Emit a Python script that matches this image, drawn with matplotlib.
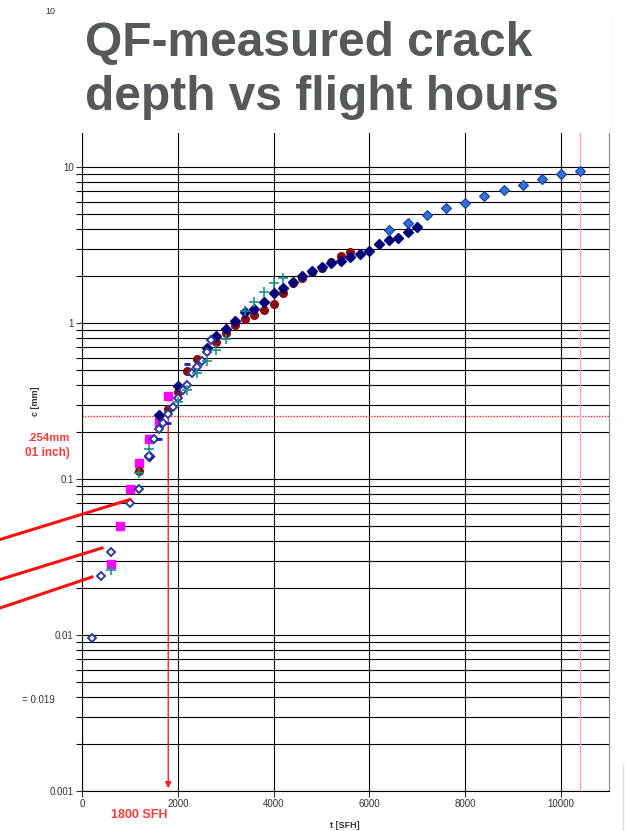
import numpy as np
import matplotlib
matplotlib.use('Agg')
import matplotlib.pyplot as plt
from matplotlib.lines import Line2D
from matplotlib.patches import Rectangle
from matplotlib.ticker import FixedLocator, LogLocator, NullFormatter

plt.rcParams['font.family'] = ['Liberation Sans', 'DejaVu Sans']

# Crack depth c [mm] against flight hours t [SFH].
open_t = [200, 400, 600, 1000, 1200, 1400, 1500, 1600, 1700, 1800, 1900,
          2000, 2100, 2200, 2300, 2400, 2500, 2600, 2700]
open_c = [0.0096, 0.024, 0.034, 0.07, 0.086, 0.14, 0.18, 0.21, 0.23, 0.26,
          0.29, 0.33, 0.37, 0.40, 0.48, 0.52, 0.57, 0.65, 0.78]

magenta_t = [600, 800, 1000, 1200, 1400, 1600, 1800]
magenta_c = [0.0285, 0.05, 0.086, 0.126, 0.18, 0.233, 0.34]

maroon_t = [1200, 1800, 2000, 2200, 2400, 2800, 3000, 3200, 3400, 3600,
            3800, 4000, 4200, 4400, 4600, 4800, 5000, 5200, 5400, 5600]
maroon_c = [0.113, 0.28, 0.36, 0.49, 0.585, 0.75, 0.86, 0.97, 1.06, 1.125,
            1.21, 1.33, 1.55, 1.81, 1.95, 2.13, 2.26, 2.46, 2.69, 2.84]

navy_t = [1400, 1600, 2000, 2600, 2800, 3000, 3200, 3400, 3600, 3800, 4000,
          4200, 4400, 4600, 4800, 5000, 5200, 5400, 5600, 5800, 6000, 6200,
          6400, 6600, 6800, 7000]
navy_c = [0.14, 0.257, 0.395, 0.69, 0.82, 0.915, 1.03, 1.18, 1.23, 1.37,
          1.55, 1.68, 1.84, 2.0, 2.15, 2.27, 2.41, 2.51, 2.64, 2.77, 2.91,
          3.19, 3.4, 3.52, 3.81, 4.1]

blue_t = [6400, 6800, 7200, 7600, 8000, 8400, 8800, 9200, 9600, 10000, 10400]
blue_c = [3.92, 4.36, 4.9, 5.42, 5.92, 6.52, 7.15, 7.7, 8.35, 9.0, 9.45]

teal_t = [600, 1200, 1400, 2000, 2200, 2400, 2600, 2800, 3000, 3400, 3600,
          3800, 4000, 4200]
teal_c = [0.026, 0.11, 0.155, 0.313, 0.37, 0.48, 0.57, 0.67, 0.785, 1.2,
          1.37, 1.57, 1.8, 1.93]

dash_t = [1600, 1800, 2200]
dash_c = [0.18, 0.23, 0.55]

limit_c = 0.254      # 0.01 inch
limit_t = 1800
end_t = 10400

x_ticks = [0, 2000, 4000, 6000, 8000, 10000]
y_ticks = [0.001, 0.01, 0.1, 1, 10, 100]
y_labels = ['0.001', '0.01', '0.1', '1', '10', '100']

W, H = 625, 831
fig = plt.figure(figsize=(W / 100, H / 100), dpi=100)


def fx(px):
    return px / W


def fy(py):
    return 1 - py / H


ax = fig.add_axes([fx(82), fy(791), fx(609) - fx(82), fy(11) - fy(791)])
ax.set_yscale('log')
ax.set_xlim(0, 11000)
ax.set_ylim(0.001, 100)

ax.xaxis.set_major_locator(FixedLocator(x_ticks))
ax.yaxis.set_major_locator(FixedLocator(y_ticks))
ax.set_yticklabels(y_labels)
ax.yaxis.set_minor_locator(LogLocator(base=10, subs=np.arange(2, 10)))
ax.yaxis.set_minor_formatter(NullFormatter())
ax.grid(True, which='both', axis='y', color='black', lw=0.8)
ax.grid(True, which='major', axis='x', color='black', lw=0.8)
ax.set_axisbelow(True)
ax.tick_params(axis='both', which='major', direction='out', length=4,
               width=0.8, labelsize=7, colors='#333333', pad=2)
ax.tick_params(axis='y', which='minor', direction='out', length=4, width=0.8)
for side in ['left', 'bottom']:
    ax.spines[side].set_color('black')
ax.spines['top'].set_visible(False)
ax.spines['right'].set_color('#888888')

# limit line, arrow at 1800 SFH, and end-of-test line
ax.axhline(limit_c, color='#ff2020', lw=1, ls=(0, (1, 1)), zorder=1)
ax.axvline(end_t, color='#f7a3c9', lw=1, zorder=1)
ax.annotate('', xy=(limit_t, 0.001), xytext=(limit_t, limit_c),
            arrowprops=dict(arrowstyle='-|>', color='#ff2020', lw=1,
                            mutation_scale=9), zorder=2)

ax.plot(magenta_t, magenta_c, 's', color='#ff00ff', ms=5.5, mec='#ff00ff', zorder=3)
ax.plot(maroon_t, maroon_c, 'o', color='#8b0a0a', ms=5.5, zorder=3)
ax.plot(navy_t, navy_c, 'D', color='#00007a', ms=4.8, zorder=4)
ax.plot(blue_t, blue_c, 'D', mfc='#2f6fe0', mec='#1b3c8f', ms=5, mew=0.8, zorder=4)
ax.plot(open_t, open_c, 'D', mfc='white', mec='#2a3aa0', ms=4.5, mew=1.4, zorder=5)
ax.plot(teal_t, teal_c, '+', color='#1f9090', ms=7, mew=1.2, zorder=6)
ax.plot(dash_t, dash_c, '_', color='#1020c0', ms=5, mew=2, zorder=6)

# red pointer lines coming in from the cropped left side
for (x0, y0, x1, y1) in [(0, 539.5, 130, 499.5), (0, 579.5, 102, 548),
                         (0, 608, 92, 577)]:
    fig.add_artist(Line2D([fx(x0), fx(x1)], [fy(y0), fy(y1)], color='#ff1010',
                          lw=2.2, transform=fig.transFigure))

# thin slide edge at bottom right
fig.add_artist(Line2D([fx(623), fx(623)], [fy(765), fy(831)], color='#dddddd',
                      lw=1, transform=fig.transFigure))

fig.text(fx(36), fy(401), 'c [mm]', rotation=90, ha='center', va='center',
         fontsize=6.5, fontweight='bold', color='#333333')
fig.text(fx(345), fy(826), 't [SFH]', ha='center', va='center',
         fontsize=6.5, fontweight='bold', color='#333333')
fig.text(fx(70), fy(438), '.254mm', ha='right', va='center', fontsize=8.2,
         fontweight='bold', color='#ff3b3b')
fig.text(fx(70), fy(453), '01 inch)', ha='right', va='center', fontsize=8.5,
         fontweight='bold', color='#ff3b3b')
fig.text(fx(22), fy(700), '= 0.019', ha='left', va='center', fontsize=7,
         color='#333333')
fig.text(fx(139), fy(815), '1800 SFH', ha='center', va='center', fontsize=9,
         fontweight='bold', color='#ff3b3b')

# slide title box sitting over the top of the chart
fig.add_artist(Rectangle((fx(56), fy(133)), fx(610) - fx(56), 133 / H,
                         facecolor='white', edgecolor='none',
                         transform=fig.transFigure, zorder=5))
# the part of the "100" tick label that peeks out beside the title box
fig.text(fx(55), fy(12), '10', ha='right', va='center', fontsize=6.5,
         color='#333333', zorder=6)
fig.text(fx(85), fy(56), 'QF-measured crack', fontsize=34.5, fontweight='bold',
         color='#55595c', ha='left', va='baseline', zorder=6)
fig.text(fx(85), fy(110), 'depth vs flight hours', fontsize=34.5,
         fontweight='bold', color='#55595c', ha='left', va='baseline', zorder=6)

fig.savefig('out.png', dpi=100)
